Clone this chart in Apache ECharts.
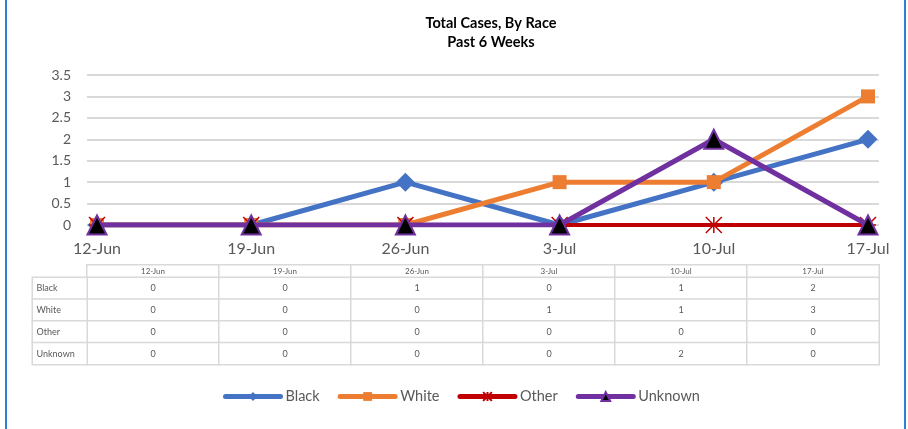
<!DOCTYPE html>
<html>
<head>
<meta charset="utf-8">
<script src="https://cdn.jsdelivr.net/npm/echarts@6/dist/echarts.min.js"></script>
<style>
html,body{margin:0;padding:0;background:#fff;}
#chart{width:908px;height:429px;}
</style>
</head>
<body>
<div id="chart"></div>
<script>
const weeks = ['12-Jun', '19-Jun', '26-Jun', '3-Jul', '10-Jul', '17-Jul'];
const races = ['Black', 'White', 'Other', 'Unknown'];
const black = [0, 0, 1, 0, 1, 2];
const white = [0, 0, 0, 1, 1, 3];
const other = [0, 0, 0, 0, 0, 0];
const unknown = [0, 0, 0, 0, 2, 0];
const yMin = 0, yMax = 3.5, yStep = 0.5;
const titleLines = ['Total Cases, By Race', 'Past 6 Weeks'];

const seriesValues = [black, white, other, unknown];
const colors = ['#4472C4', '#ED7D31', '#C00000', '#7030A0'];
const FONT = 'Lato, "Liberation Sans", sans-serif';
const GRAY = '#595959';
const LINE = '#d9d9d9';

const chart = echarts.init(document.getElementById('chart'));

const tableData = [];
seriesValues.forEach((vals, ri) => vals.forEach((v, wi) => tableData.push([wi, ri, v])));
const headerData = weeks.map((w, i) => [i, 0, 0]);
const rowLabelData = races.map((r, i) => [0, i, 0]);

const cellStyle = { color: '#ffffff', borderColor: LINE, borderWidth: 1.5 };

const symbols = [
  { symbol: 'diamond', symbolSize: 19 },
  { symbol: 'rect', symbolSize: 14 },
  { symbol: 'path://M0,0L10,10M10,0L0,10M5,0L5,10M0,5L10,5', symbolSize: 16 },
  { symbol: 'triangle', symbolSize: 19 }
];

const lineSeries = races.map((name, i) => ({
  name: name,
  type: 'line',
  xAxisIndex: 1,
  yAxisIndex: 1,
  data: seriesValues[i],
  symbol: symbols[i].symbol,
  symbolSize: symbols[i].symbolSize,
  showAllSymbol: true,
  symbolKeepAspect: true,
  lineStyle: { color: colors[i], width: i === 2 ? 4 : 5 },
  itemStyle: i === 3
    ? { color: '#000000', borderColor: colors[i], borderWidth: 2 }
    : (i === 2 ? { color: colors[i], borderColor: colors[i], borderWidth: 1.5 } : { color: colors[i] }),
  emphasis: { disabled: true },
  silent: true,
  z: 3 + i
}));

const option = {
  animation: false,
  backgroundColor: '#ffffff',
  textStyle: { fontFamily: FONT },
  title: {
    text: titleLines.join('\n'),
    left: 491,
    top: 14,
    padding: 0,
    textAlign: 'center',
    textStyle: { fontFamily: FONT, fontSize: 14.5, fontWeight: 'bold', color: '#000', lineHeight: 19 }
  },
  legend: {
    data: races,
    left: 218,
    top: 384,
    itemWidth: 55,
    itemHeight: 11,
    itemGap: 18,
    lineStyle: { width: 5, cap: 'round' },
    textStyle: { fontFamily: FONT, fontSize: 14.5, color: GRAY },
    selectedMode: false
  },
  graphic: [
    { type: 'rect', shape: { x: 5, y: 0, width: 2, height: 429 }, style: { fill: '#2F7FD6' }, silent: true },
    { type: 'rect', shape: { x: 904, y: 0, width: 2, height: 429 }, style: { fill: '#2F7FD6' }, silent: true }
  ],
  grid: [
    { left: 87, right: 29, top: 75, height: 150 },
    { left: 97, right: 40, top: 75, height: 150 },
    { left: 87, right: 29, top: 265, height: 12.5 },
    { left: 87, right: 29, top: 277.5, height: 87 },
    { left: 32.5, width: 54.5, top: 277.5, height: 87 }
  ],
  xAxis: [
    { gridIndex: 0, type: 'category', data: weeks, show: false },
    {
      gridIndex: 1, type: 'category', data: weeks, boundaryGap: false,
      axisLine: { show: false }, axisTick: { show: false },
      axisLabel: { fontFamily: FONT, fontSize: 16, color: GRAY, margin: 16 }
    },
    { gridIndex: 2, type: 'category', data: weeks, show: false },
    { gridIndex: 3, type: 'category', data: weeks, show: false },
    { gridIndex: 4, type: 'category', data: [''], show: false }
  ],
  yAxis: [
    {
      gridIndex: 0, type: 'value', min: yMin, max: yMax, interval: yStep,
      axisLine: { show: false }, axisTick: { show: false },
      axisLabel: { fontFamily: FONT, fontSize: 14, color: GRAY, margin: 16 },
      splitLine: { lineStyle: { color: LINE, width: 2 } }
    },
    { gridIndex: 1, type: 'value', min: yMin, max: yMax, interval: yStep, show: false, splitLine: { show: false } },
    { gridIndex: 2, type: 'category', data: [''], show: false },
    { gridIndex: 3, type: 'category', data: races, inverse: true, show: false },
    { gridIndex: 4, type: 'category', data: races, inverse: true, show: false }
  ],
  series: lineSeries.concat([
    {
      type: 'heatmap', xAxisIndex: 2, yAxisIndex: 2, data: headerData, silent: true,
      itemStyle: cellStyle, emphasis: { disabled: true },
      label: { show: true, fontFamily: FONT, fontSize: 8, color: GRAY, formatter: p => weeks[p.data[0]] }
    },
    {
      type: 'heatmap', xAxisIndex: 3, yAxisIndex: 3, data: tableData, silent: true,
      itemStyle: cellStyle, emphasis: { disabled: true },
      label: { show: true, fontFamily: FONT, fontSize: 9, color: GRAY, formatter: p => String(p.data[2]) }
    },
    {
      type: 'heatmap', xAxisIndex: 4, yAxisIndex: 4, data: rowLabelData, silent: true,
      itemStyle: cellStyle, emphasis: { disabled: true },
      label: { show: true, position: 'insideLeft', distance: 5, fontFamily: FONT, fontSize: 9, color: GRAY, formatter: p => races[p.data[1]] }
    }
  ])
};

chart.setOption(option);
</script>
</body>
</html>
